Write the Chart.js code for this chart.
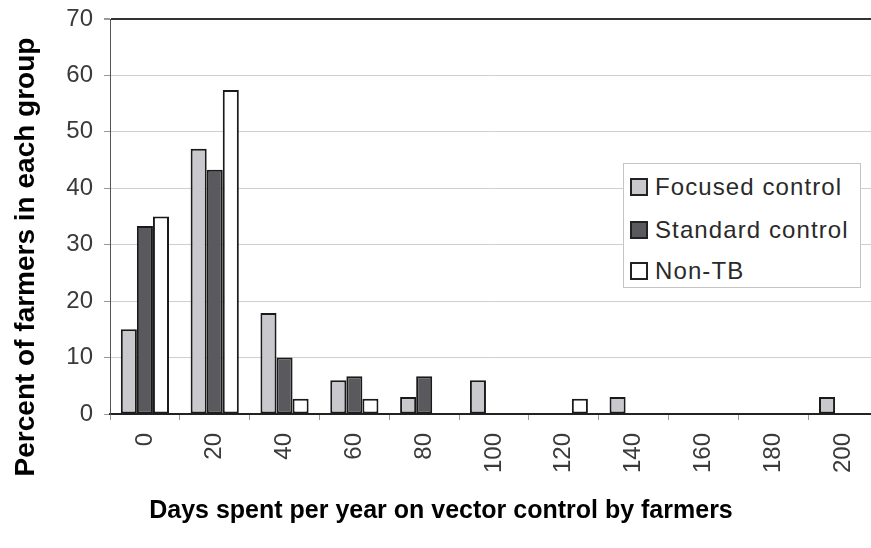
<!DOCTYPE html>
<html>
<head>
<meta charset="utf-8">
<script src="https://cdn.jsdelivr.net/npm/chart.js@4.4.1/dist/chart.umd.min.js"></script>
<style>
    body { margin: 0; overflow: hidden; background: #fff; }
    .wrap { position: relative; width: 890px; height: 548px; }
    .legend {
        position: absolute; left: 623px; top: 163px; width: 238px; height: 125px;
        border: 1px solid #c4c4c4; background: #fff; box-sizing: border-box;
        font-family: "Liberation Sans", Arial, sans-serif; font-size: 24px;
        letter-spacing: 1.1px; color: #2a2a2a;
    }
    .legend-item { position: absolute; left: 6px; height: 28px; display: flex; align-items: center; white-space: nowrap; }
    .legend-item .box {
        width: 14px; height: 14px; border: 2px solid #222; margin-right: 7px;
    }
</style>
</head>
<body>
<div class="wrap">
    <canvas id="daysChart" width="890" height="548"></canvas>
    <div class="legend" id="legend"></div>
</div>
<script>
// Chart data
const categories = ['0', '20', '40', '60', '80', '100', '120', '140', '160', '180', '200'];
const focusedControl = [15, 47, 17.9, 6, 3, 6, null, 3, null, null, 3];
const standardControl = [33.3, 43.3, 10, 6.7, 6.7, null, null, null, null, null, null];
const nonTB = [35, 57.4, 2.7, 2.7, null, null, 2.7, null, null, null, null];
const yTicks = [0, 10, 20, 30, 40, 50, 60, 70];

const seriesNames = ['Focused control', 'Standard control', 'Non-TB'];
const seriesColors = ['#c9c8cc', '#5a5a5e', '#ffffff'];
const xTitle = 'Days spent per year on vector control by farmers';
const yTitle = 'Percent of farmers in each group';

const fontFamily = '"Liberation Sans", Arial, sans-serif';
const tickFont = { family: fontFamily, size: 24 };

// Axis titles drawn where the original figure has them (not centred on the plot)
const axisTitles = {
    id: 'axisTitles',
    afterDraw(chart) {
        const c = chart.ctx;
        c.save();
        c.fillStyle = '#000';
        c.font = 'bold 25px ' + fontFamily;
        c.textAlign = 'center';
        c.textBaseline = 'middle';
        c.fillText(xTitle, 441, 511);
        c.translate(26, 257);
        c.rotate(-Math.PI / 2);
        c.font = 'bold 28px ' + fontFamily;
        c.fillText(yTitle, 0, 0);
        c.restore();
    }
};

// Chart initialization
const initializeDaysChart = () => {
    const ctx = document.getElementById('daysChart').getContext('2d');
    const makeDataset = (label, data, color) => ({
        label: label,
        data: data,
        backgroundColor: color,
        borderColor: '#1a1a1a',
        borderWidth: 2,
        borderSkipped: false,
        categoryPercentage: 0.69,
        barPercentage: 1.0
    });
    new Chart(ctx, {
        type: 'bar',
        data: {
            labels: categories,
            datasets: [
                makeDataset(seriesNames[0], focusedControl, seriesColors[0]),
                makeDataset(seriesNames[1], standardControl, seriesColors[1]),
                makeDataset(seriesNames[2], nonTB, seriesColors[2])
            ]
        },
        plugins: [axisTitles],
        options: {
            responsive: false,
            animation: false,
            devicePixelRatio: 1,
            layout: { padding: { top: 19, right: 12, left: 0, bottom: 0 } },
            plugins: {
                legend: { display: false },
                tooltip: { enabled: false }
            },
            scales: {
                x: {
                    grid: {
                        display: true,
                        drawOnChartArea: false,
                        offset: true,
                        tickLength: 6,
                        tickColor: '#999'
                    },
                    border: { color: '#222', width: 2 },
                    ticks: {
                        color: '#3a3a3a',
                        font: tickFont,
                        autoSkip: false,
                        minRotation: 90,
                        maxRotation: 90,
                        padding: 13
                    },
                    afterFit: (scale) => {
                        scale.height = 134;
                        scale.paddingLeft = 0;
                        scale.paddingRight = 0;
                    }
                },
                y: {
                    min: 0,
                    max: 70,
                    afterBuildTicks: (scale) => { scale.ticks = yTicks.map(v => ({ value: v })); },
                    grid: {
                        color: (c) => c.tick && c.tick.value === 70 ? '#333' : '#cfcfcf',
                        lineWidth: (c) => c.tick && c.tick.value === 70 ? 2 : 1,
                        tickLength: 6,
                        tickColor: '#999'
                    },
                    border: { color: '#555', width: 1 },
                    ticks: {
                        color: '#3a3a3a',
                        font: tickFont,
                        padding: 11
                    },
                    afterFit: (scale) => {
                        scale.width = 110;
                        scale.paddingTop = 0;
                        scale.paddingBottom = 0;
                    }
                }
            }
        }
    });
};

// HTML legend
const buildLegend = () => {
    const legend = document.getElementById('legend');
    const rowTops = [9, 52, 93];
    seriesNames.forEach((name, i) => {
        const item = document.createElement('div');
        item.className = 'legend-item';
        item.style.top = rowTops[i] + 'px';
        item.innerHTML = `<span class="box" style="background:${seriesColors[i]}"></span><span>${name}</span>`;
        legend.appendChild(item);
    });
};

initializeDaysChart();
buildLegend();
</script>
</body>
</html>
